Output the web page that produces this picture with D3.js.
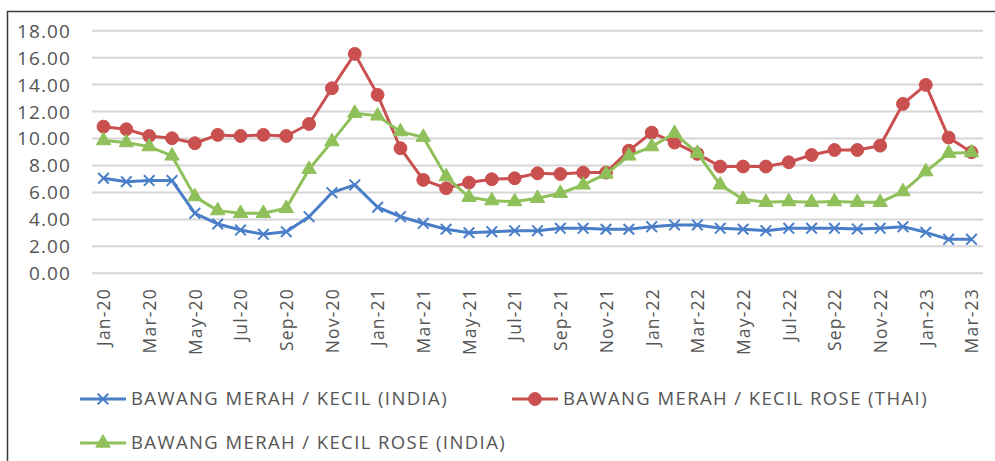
<!DOCTYPE html>
<html>
<head>
<meta charset="utf-8">
<script src="https://cdn.jsdelivr.net/npm/d3@7"></script>
<style>
  html, body { margin: 0; padding: 0; background: #fff; }
  svg { display: block; }
  text { font-family: "Open Sans", sans-serif; fill: #555555; }
</style>
</head>
<body>
<svg id="chart" width="995" height="461"></svg>
<script>
const months = ["Jan-20","Feb-20","Mar-20","Apr-20","May-20","Jun-20","Jul-20","Aug-20","Sep-20","Oct-20","Nov-20","Dec-20",
  "Jan-21","Feb-21","Mar-21","Apr-21","May-21","Jun-21","Jul-21","Aug-21","Sep-21","Oct-21","Nov-21","Dec-21",
  "Jan-22","Feb-22","Mar-22","Apr-22","May-22","Jun-22","Jul-22","Aug-22","Sep-22","Oct-22","Nov-22","Dec-22",
  "Jan-23","Feb-23","Mar-23"];
const xTickLabels = ["Jan-20","Mar-20","May-20","Jul-20","Sep-20","Nov-20","Jan-21","Mar-21","May-21","Jul-21","Sep-21","Nov-21",
  "Jan-22","Mar-22","May-22","Jul-22","Sep-22","Nov-22","Jan-23","Mar-23"];
const yTicks = [0,2,4,6,8,10,12,14,16,18];

const kecilIndia = [7.05,6.80,6.88,6.88,4.45,3.66,3.21,2.89,3.09,4.20,5.98,6.56,
  4.90,4.20,3.71,3.27,3.01,3.09,3.16,3.16,3.34,3.34,3.27,3.27,
  3.46,3.59,3.59,3.34,3.27,3.16,3.34,3.34,3.34,3.29,3.34,3.46,
  3.04,2.52,2.52];
const roseThai = [10.88,10.69,10.19,10.02,9.65,10.27,10.19,10.27,10.19,11.08,13.73,16.28,
  13.24,9.28,6.93,6.31,6.73,6.98,7.05,7.42,7.37,7.47,7.47,9.10,
  10.44,9.70,8.86,7.92,7.92,7.92,8.24,8.78,9.15,9.15,9.47,12.57,
  13.98,10.07,8.98];
const roseIndia = [9.85,9.70,9.40,8.71,5.69,4.65,4.45,4.45,4.82,7.72,9.77,11.88,
  11.68,10.51,10.10,7.17,5.64,5.39,5.32,5.57,5.94,6.56,7.37,8.71,
  9.40,10.39,8.91,6.56,5.49,5.27,5.32,5.27,5.32,5.27,5.27,6.06,
  7.54,8.91,8.96];

const seriesNames = ["BAWANG MERAH / KECIL (INDIA)", "BAWANG MERAH / KECIL ROSE (THAI)", "BAWANG MERAH / KECIL ROSE (INDIA)"];
const seriesColors = ["#4a7ec8", "#c9504f", "#8fc05a"];
const seriesMarkers = ["cross", "circle", "triangle"];
const seriesValues = [kecilIndia, roseThai, roseIndia];

const svg = d3.select("#chart");

// frame
svg.append("path").attr("d", "M7.5,461 L7.5,11.5 L995,11.5")
  .attr("fill", "none").attr("stroke", "#3a3a3a").attr("stroke-width", 1.5);

const plotLeft = 92, plotRight = 983;
const x = d3.scalePoint().domain(months).range([103.5, 971.5]);
const y = d3.scaleLinear().domain([0, 18]).range([273.3, 30.7]);

// gridlines
svg.append("g").selectAll("line").data(yTicks).join("line")
  .attr("x1", plotLeft).attr("x2", plotRight)
  .attr("y1", d => y(d)).attr("y2", d => y(d))
  .attr("stroke", "#d6d6d6").attr("stroke-width", 2);

// y axis
const yAxis = svg.append("g").attr("transform", "translate(71,0)")
  .call(d3.axisLeft(y).tickValues(yTicks).tickFormat(d => d.toFixed(2)).tickSize(0).tickPadding(0));
yAxis.select(".domain").remove();
yAxis.selectAll("text").attr("font-size", 19).attr("letter-spacing", 1.1)
  .attr("font-family", "Open Sans").attr("fill", "#555555").attr("dy", "0.34em");

// x axis
const xAxis = svg.append("g").attr("transform", "translate(0,288)")
  .call(d3.axisBottom(x).tickValues(xTickLabels).tickSize(0).tickPadding(0));
xAxis.select(".domain").remove();
xAxis.selectAll("text")
  .attr("font-size", 17.5).attr("letter-spacing", 1.2)
  .attr("font-family", "Open Sans").attr("fill", "#555555")
  .attr("transform", "rotate(-90)")
  .attr("text-anchor", "end")
  .attr("x", 0).attr("y", 0).attr("dy", "0.36em");

// series
const line = d3.line().x((d, i) => x(months[i])).y(d => y(d));
const symbolFor = m => m === "circle" ? d3.symbolCircle : (m === "triangle" ? d3.symbolTriangle : d3.symbolX);
const sizeFor = m => m === "circle" ? 130 : (m === "triangle" ? 90 : 60);

function drawMarker(g, m, color) {
  if (m === "cross") {
    g.append("path").attr("d", d3.symbol(d3.symbolX, 75)())
      .attr("fill", "none").attr("stroke", color).attr("stroke-width", 2);
  } else {
    g.append("path").attr("d", d3.symbol(symbolFor(m), sizeFor(m))())
      .attr("fill", color).attr("stroke", color).attr("stroke-width", 1);
  }
}

[0, 1, 2].forEach(si => {
  const vals = seriesValues[si];
  const color = seriesColors[si];
  const g = svg.append("g");
  g.append("path").datum(vals).attr("d", line)
    .attr("fill", "none").attr("stroke", color).attr("stroke-width", 3)
    .attr("stroke-linejoin", "round");
  vals.forEach((v, i) => {
    const mg = g.append("g").attr("transform", `translate(${x(months[i])},${y(v)})`);
    drawMarker(mg, seriesMarkers[si], color);
  });
});

// legend
const legendItems = [
  { idx: 0, lx: 80, ty: 399 },
  { idx: 1, lx: 512, ty: 399 },
  { idx: 2, lx: 80, ty: 443 }
];
legendItems.forEach(it => {
  const color = seriesColors[it.idx];
  const g = svg.append("g").attr("transform", `translate(${it.lx},${it.ty})`);
  g.append("line").attr("x1", 0).attr("x2", 46).attr("y1", 0).attr("y2", 0)
    .attr("stroke", color).attr("stroke-width", 3);
  const mg = g.append("g").attr("transform", "translate(23,0)");
  drawMarker(mg, seriesMarkers[it.idx], color);
  g.append("text").attr("x", 51).attr("y", 0).attr("dy", "0.35em")
    .attr("font-size", 18.5).attr("letter-spacing", 1.4)
    .text(seriesNames[it.idx]);
});
</script>
</body>
</html>
